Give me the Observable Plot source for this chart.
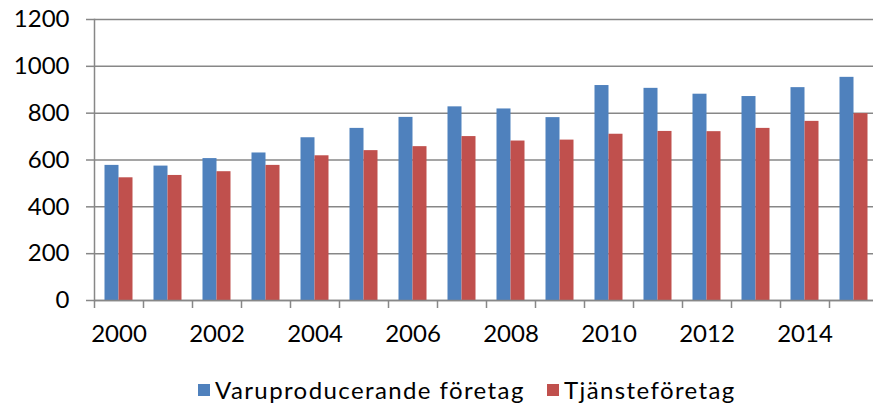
<!DOCTYPE html>
<html>
<head>
<meta charset="utf-8">
<script src="https://cdn.jsdelivr.net/npm/d3@7"></script>
<script src="https://cdn.jsdelivr.net/npm/@observablehq/plot@0.6"></script>
<style>
  html, body { margin: 0; padding: 0; background: #fff; overflow: hidden; }
  #chart { width: 873px; }
  .legend { position: relative; height: 53px; font-family: Lato, sans-serif; font-size: 24px; color: #000; }
  .legend .item { position: absolute; top: 20px; display: flex; align-items: center; white-space: nowrap; letter-spacing: 1.4px; }
  .legend .sw { width: 12px; height: 12px; margin-right: 5px; }
</style>
</head>
<body>
<div id="chart"></div>
<script>
const years = ["2000","2001","2002","2003","2004","2005","2006","2007","2008","2009","2010","2011","2012","2013","2014","2015"];
const varu = [577, 574, 606, 630, 695, 735, 782, 827, 818, 781, 918, 906, 881, 871, 909, 953];
const tjanst = [524, 534, 550, 577, 618, 640, 657, 700, 681, 685, 710, 722, 721, 735, 765, 798];
const labelYears = ["2000","2002","2004","2006","2008","2010","2012","2014"];
const yTicks = [0, 200, 400, 600, 800, 1000, 1200];
const seriesNames = ["Varuproducerande företag", "Tjänsteföretag"];
const colors = ["#4F81BD", "#C0504D"];

const table = years.map((y, i) => ({year: y, varu: varu[i], tjanst: tjanst[i]}));
const grid = "#878787";

const plot = Plot.plot({
  width: 873,
  height: 355,
  marginLeft: 94,
  marginRight: -5,
  marginTop: 19,
  marginBottom: 55,
  style: {fontFamily: "Lato, sans-serif", fontSize: "24px", color: "#000", background: "#fff"},
  x: {type: "band", domain: years, padding: 0},
  y: {domain: [0, 1200]},
  marks: [
    Plot.gridY(yTicks, {stroke: grid, strokeOpacity: 1, strokeWidth: 1.5}),
    Plot.barY(table, {x: "year", y: "varu", fill: colors[0], insetLeft: 10.5, insetRight: 24.5}),
    Plot.barY(table, {x: "year", y: "tjanst", fill: colors[1], insetLeft: 24.5, insetRight: 10.5}),
    Plot.ruleY([0], {stroke: grid, strokeWidth: 1.5}),
    Plot.frame({anchor: "left", stroke: grid, strokeWidth: 1.5}),
    Plot.axisY(yTicks, {tickSize: 8, tickPadding: 17, tickFormat: d3.format("d"), stroke: grid, strokeWidth: 1.5, fill: "#000", fontSize: 24, label: null}),
    Plot.axisX(years, {tickSize: 8, tickFormat: () => "", dx: -24.5, stroke: grid, strokeWidth: 1.5, label: null}),
    Plot.axisX(labelYears, {tickSize: 0, tickPadding: 24, fill: "#000", fontSize: 24, label: null})
  ]
});
document.getElementById("chart").appendChild(plot);

const legend = document.createElement("div");
legend.className = "legend";
const lefts = [198, 547];
seriesNames.forEach((name, i) => {
  const item = document.createElement("div");
  item.className = "item";
  item.style.left = lefts[i] + "px";
  const sw = document.createElement("span");
  sw.className = "sw";
  sw.style.background = colors[i];
  const t = document.createElement("span");
  t.textContent = name;
  item.appendChild(sw);
  item.appendChild(t);
  legend.appendChild(item);
});
document.getElementById("chart").appendChild(legend);
</script>
</body>
</html>
